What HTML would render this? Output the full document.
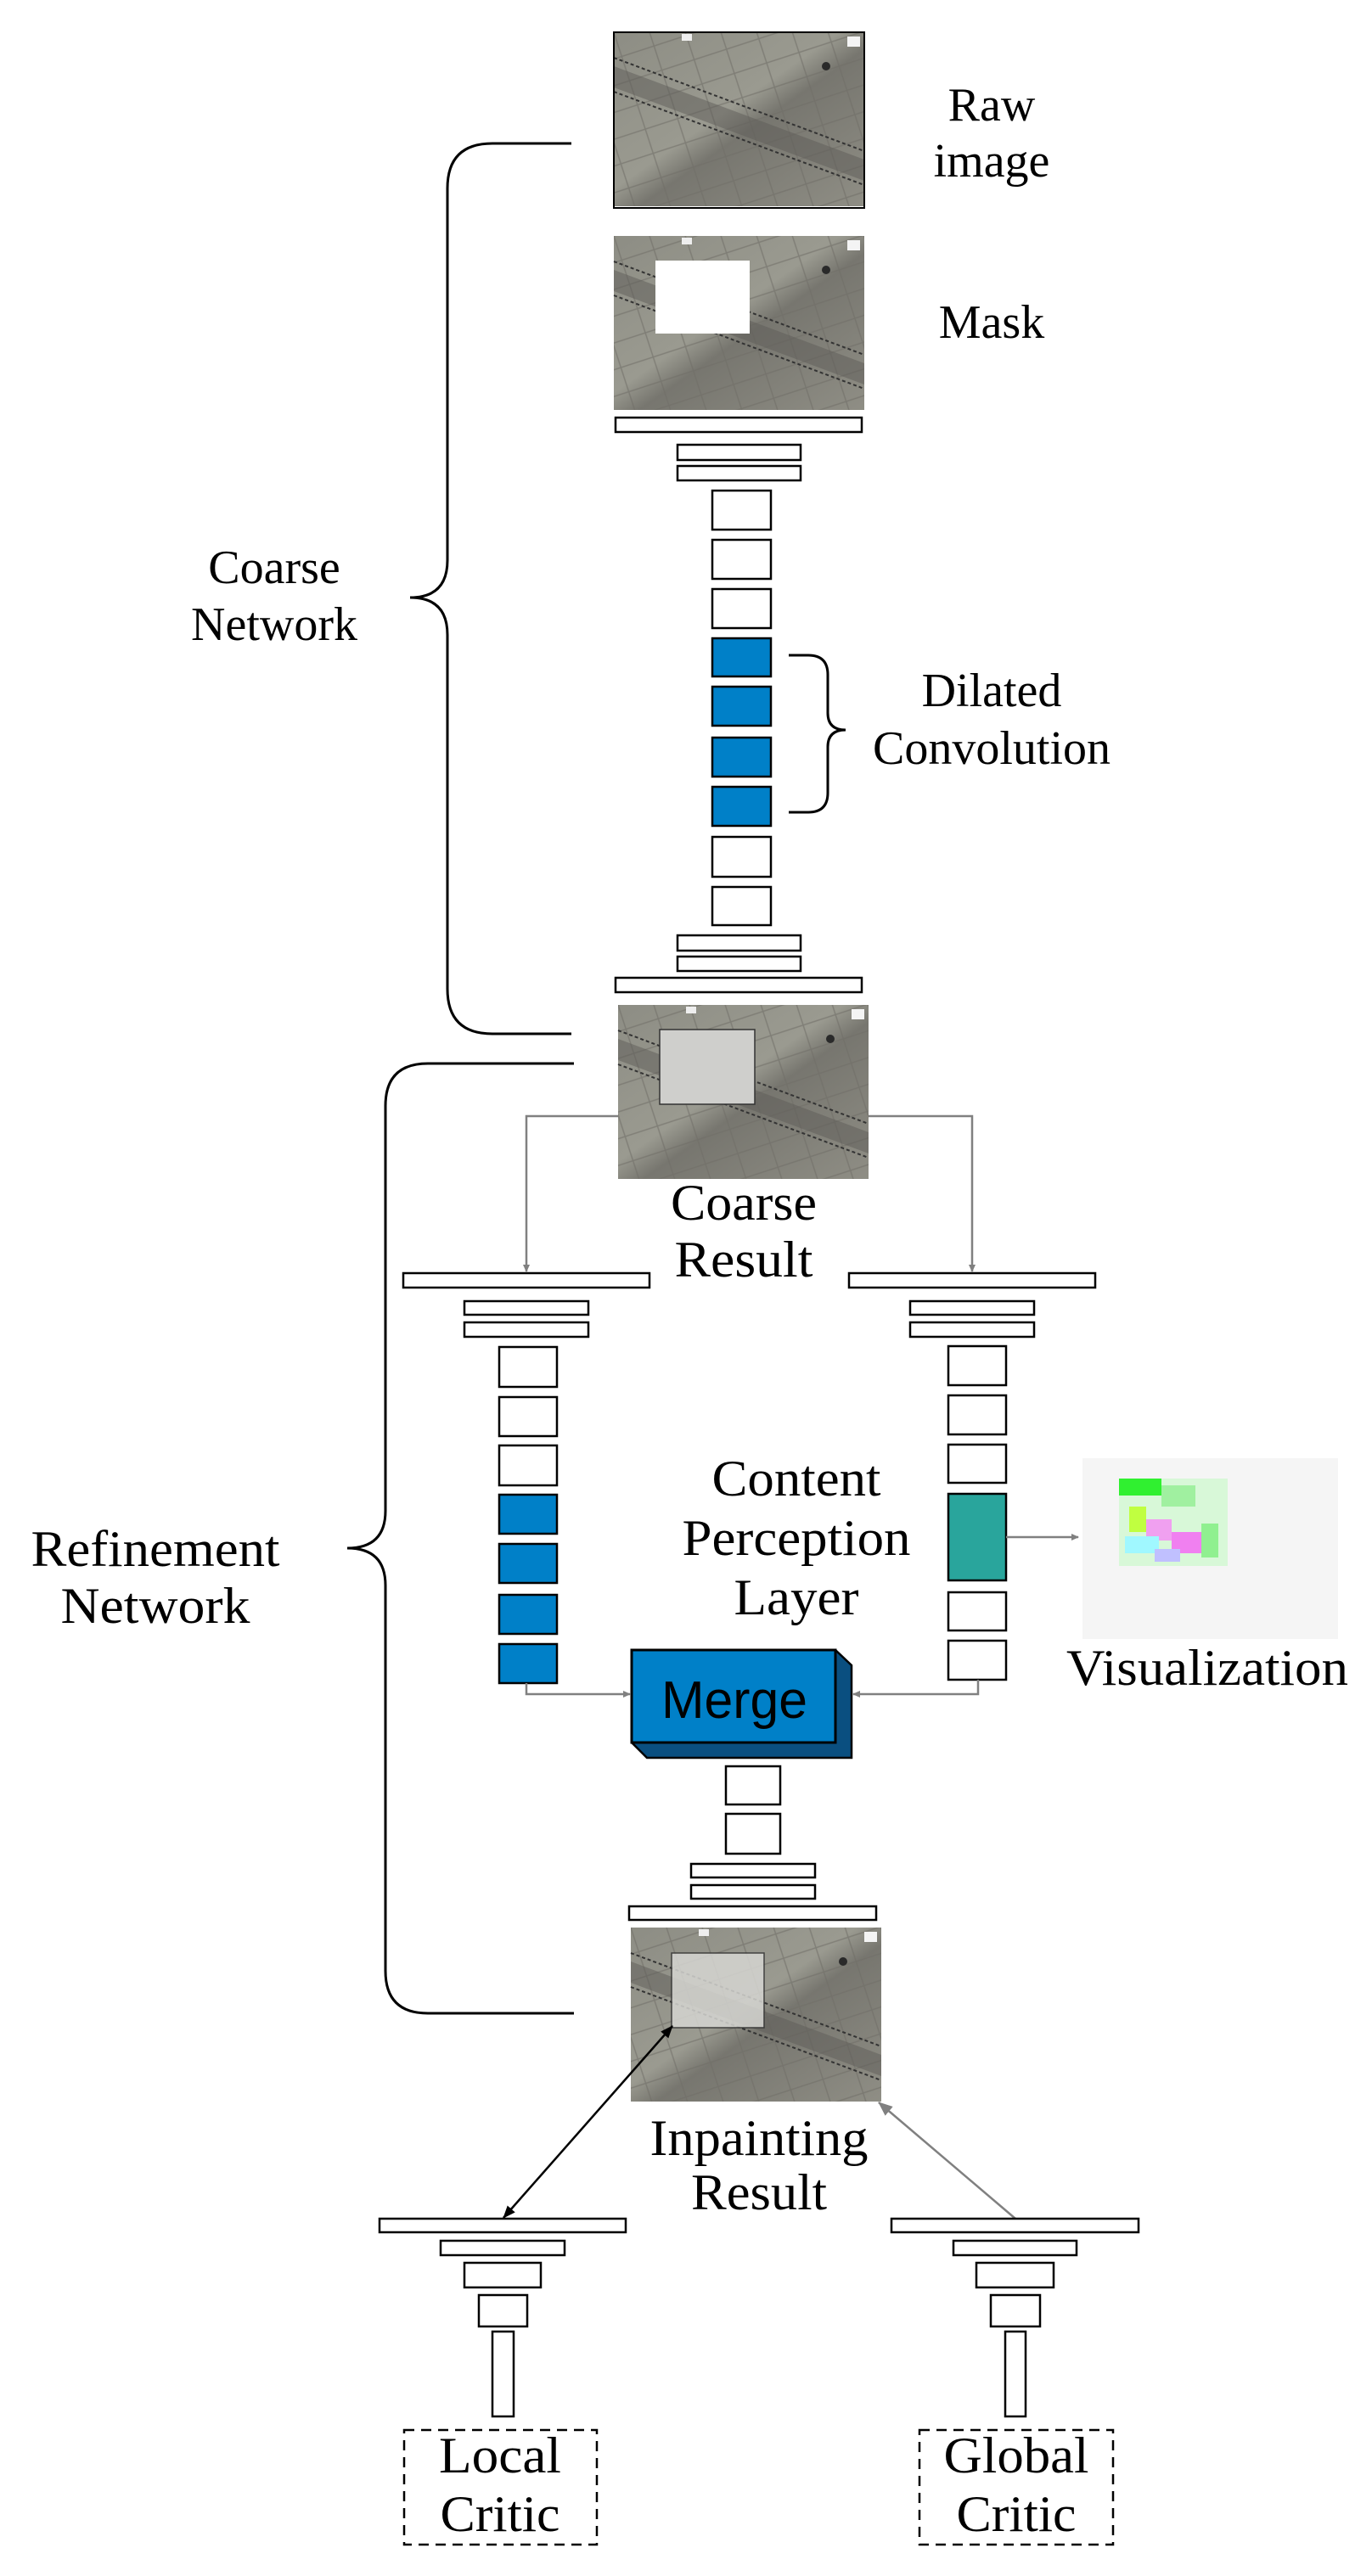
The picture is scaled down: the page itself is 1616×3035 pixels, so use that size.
<!DOCTYPE html>
<html><head><meta charset="utf-8"><style>
html,body{margin:0;padding:0;background:#fff}
svg{display:block}
text{font-family:"Liberation Serif",serif;fill:#000}
</style></head><body>
<svg width="1616" height="3035" viewBox="0 0 1616 3035" xmlns="http://www.w3.org/2000/svg">
<defs>
<linearGradient id="g1" x1="0" y1="0" x2="1" y2="1">
<stop offset="0" stop-color="#8d8d84"/><stop offset="0.45" stop-color="#9a9a90"/><stop offset="0.55" stop-color="#77766f"/><stop offset="1" stop-color="#8f8e85"/>
</linearGradient>
<pattern id="tiles" width="40" height="30" patternUnits="userSpaceOnUse" patternTransform="rotate(-18)">
<rect width="40" height="30" fill="none" stroke="#6f6e68" stroke-width="1.5" opacity="0.6"/>
</pattern>
<marker id="ag" markerWidth="10" markerHeight="10" refX="8" refY="5" orient="auto" markerUnits="userSpaceOnUse"><path d="M0,1 L9,5 L0,9 z" fill="#808080"/></marker>
<marker id="agb" markerWidth="18" markerHeight="18" refX="16" refY="9" orient="auto" markerUnits="userSpaceOnUse"><path d="M0,2 L17,9 L0,16 z" fill="#808080"/></marker>
<marker id="ab" markerWidth="16" markerHeight="16" refX="14" refY="8" orient="auto-start-reverse" markerUnits="userSpaceOnUse"><path d="M0,2 L15,8 L0,14 z" fill="#000"/></marker>
<g id="photo">
<rect width="295" height="205" fill="url(#g1)"/>
<rect width="295" height="205" fill="url(#tiles)"/>
<path d="M0,40 L295,150 L295,175 L0,65 z" fill="#5d5c57" opacity="0.5"/>
<path d="M0,30 L295,140" stroke="#333" stroke-width="2" stroke-dasharray="4 3"/>
<path d="M0,70 L295,180" stroke="#333" stroke-width="2" stroke-dasharray="4 3"/>
<circle cx="250" cy="40" r="5" fill="#2a2a2a"/>
<rect x="80" y="2" width="12" height="8" fill="#eee"/>
<rect x="275" y="5" width="15" height="12" fill="#f4f4f4"/>
</g>
</defs>

<use href="#photo" x="723" y="38"/>
<rect x="723" y="38" width="295" height="207" fill="none" stroke="#000" stroke-width="2"/>
<text x="1168" y="142" font-size="56" text-anchor="middle">Raw</text>
<text x="1168" y="208" font-size="56" text-anchor="middle">image</text>

<use href="#photo" x="723" y="278"/>
<rect x="772" y="307" width="111" height="86" fill="#fff"/>
<text x="1168" y="398" font-size="56" text-anchor="middle">Mask</text>

<g fill="#fff" stroke="#000" stroke-width="2.5">
<rect x="725" y="492" width="290" height="17"/>
<rect x="798" y="524" width="145" height="18"/>
<rect x="798" y="549" width="145" height="17"/>
<rect x="839" y="578" width="69" height="46"/>
<rect x="839" y="636" width="69" height="46"/>
<rect x="839" y="694" width="69" height="46"/>
<rect x="839" y="752" width="69" height="45" fill="#0080c8"/>
<rect x="839" y="809" width="69" height="46" fill="#0080c8"/>
<rect x="839" y="869" width="69" height="46" fill="#0080c8"/>
<rect x="839" y="927" width="69" height="46" fill="#0080c8"/>
<rect x="839" y="986" width="69" height="47"/>
<rect x="839" y="1045" width="69" height="45"/>
<rect x="798" y="1102" width="145" height="18"/>
<rect x="798" y="1127" width="145" height="17"/>
<rect x="725" y="1152" width="290" height="17"/>
</g>

<path d="M929,772 L952,772 Q975,772 975,795 L975,840 Q975,860 996,860 Q975,860 975,880 L975,934 Q975,957 952,957 L929,957" fill="none" stroke="#000" stroke-width="3"/>
<text x="1168" y="832" font-size="56" text-anchor="middle">Dilated</text>
<text x="1168" y="900" font-size="56" text-anchor="middle">Convolution</text>

<path d="M673,169 L580,169 Q527,169 527,222 L527,660 Q527,704 483,704 Q527,704 527,748 L527,1165 Q527,1218 580,1218 L673,1218" fill="none" stroke="#000" stroke-width="3"/>
<text x="323" y="687" font-size="56" text-anchor="middle">Coarse</text>
<text x="323" y="754" font-size="56" text-anchor="middle">Network</text>

<use href="#photo" x="728" y="1184"/>
<rect x="777" y="1213" width="112" height="88" fill="#cfcfcc" stroke="#333" stroke-width="1.5"/>
<text x="876" y="1437" font-size="60" text-anchor="middle" textLength="172" lengthAdjust="spacingAndGlyphs">Coarse</text>
<text x="876" y="1504" font-size="60" text-anchor="middle" textLength="163" lengthAdjust="spacingAndGlyphs">Result</text>

<path d="M676,1253 L504,1253 Q454,1253 454,1303 L454,1780 Q454,1824 409,1824 Q454,1824 454,1868 L454,2322 Q454,2372 504,2372 L676,2372" fill="none" stroke="#000" stroke-width="3"/>
<text x="183" y="1845" font-size="60" text-anchor="middle" textLength="293" lengthAdjust="spacingAndGlyphs">Refinement</text>
<text x="183" y="1912" font-size="60" text-anchor="middle" textLength="223" lengthAdjust="spacingAndGlyphs">Network</text>

<path d="M728,1315 L620,1315 L620,1498" fill="none" stroke="#808080" stroke-width="2.5" marker-end="url(#ag)"/>
<path d="M1023,1315 L1145,1315 L1145,1498" fill="none" stroke="#808080" stroke-width="2.5" marker-end="url(#ag)"/>

<g fill="#fff" stroke="#000" stroke-width="2.5">
<rect x="475" y="1500" width="290" height="17"/>
<rect x="547" y="1533" width="146" height="16"/>
<rect x="547" y="1558" width="146" height="17"/>
<rect x="588" y="1587" width="68" height="47"/>
<rect x="588" y="1646" width="68" height="46"/>
<rect x="588" y="1703" width="68" height="47"/>
<rect x="588" y="1761" width="68" height="46" fill="#0080c8"/>
<rect x="588" y="1819" width="68" height="46" fill="#0080c8"/>
<rect x="588" y="1879" width="68" height="46" fill="#0080c8"/>
<rect x="588" y="1937" width="68" height="46" fill="#0080c8"/>
<rect x="1000" y="1500" width="290" height="17"/>
<rect x="1072" y="1533" width="146" height="16"/>
<rect x="1072" y="1558" width="146" height="17"/>
<rect x="1117" y="1586" width="68" height="46"/>
<rect x="1117" y="1644" width="68" height="46"/>
<rect x="1117" y="1702" width="68" height="45"/>
<rect x="1117" y="1760" width="68" height="102" fill="#29a59c"/>
<rect x="1117" y="1876" width="68" height="45"/>
<rect x="1117" y="1933" width="68" height="46"/>
</g>

<text x="938" y="1762" font-size="60" text-anchor="middle" textLength="199" lengthAdjust="spacingAndGlyphs">Content</text>
<text x="938" y="1832" font-size="60" text-anchor="middle" textLength="269" lengthAdjust="spacingAndGlyphs">Perception</text>
<text x="938" y="1902" font-size="60" text-anchor="middle" textLength="147" lengthAdjust="spacingAndGlyphs">Layer</text>

<rect x="1275" y="1718" width="301" height="213" fill="#f5f5f5"/>
<g>
<rect x="1318" y="1742" width="128" height="103" fill="#d8f8d8"/>
<rect x="1318" y="1742" width="50" height="20" fill="#30f030"/>
<rect x="1368" y="1750" width="40" height="25" fill="#a0f0a0"/>
<rect x="1330" y="1775" width="20" height="30" fill="#c0ff40"/>
<rect x="1350" y="1790" width="30" height="25" fill="#f0a0f0"/>
<rect x="1325" y="1810" width="40" height="20" fill="#a0f8ff"/>
<rect x="1380" y="1805" width="35" height="25" fill="#f080f0"/>
<rect x="1360" y="1825" width="30" height="15" fill="#c0c0ff"/>
<rect x="1415" y="1795" width="20" height="40" fill="#90f090"/>
</g>
<path d="M1185,1811 L1270,1811" stroke="#808080" stroke-width="2.5" marker-end="url(#ag)"/>
<text x="1422" y="1985" font-size="60" text-anchor="middle" textLength="332" lengthAdjust="spacingAndGlyphs">Visualization</text>

<path d="M744,1944 L984,1944 L1003,1962 L1003,2071 L762,2071 L744,2053 z" fill="#0a4f80" stroke="#000" stroke-width="2.5"/>
<rect x="744" y="1944" width="240" height="109" fill="#0080c8" stroke="#000" stroke-width="3"/>
<text x="865" y="2024" font-size="62" text-anchor="middle" textLength="172" lengthAdjust="spacingAndGlyphs" style="font-family:'Liberation Sans',sans-serif">Merge</text>
<path d="M620,1983 L620,1996 L742,1996" fill="none" stroke="#808080" stroke-width="2.5" marker-end="url(#ag)"/>
<path d="M1152,1979 L1152,1996 L1005,1996" fill="none" stroke="#808080" stroke-width="2.5" marker-end="url(#ag)"/>

<g fill="#fff" stroke="#000" stroke-width="2.5">
<rect x="855" y="2081" width="64" height="45"/>
<rect x="855" y="2137" width="64" height="47"/>
<rect x="814" y="2196" width="146" height="16"/>
<rect x="814" y="2221" width="146" height="16"/>
<rect x="741" y="2246" width="291" height="16"/>
</g>

<use href="#photo" x="743" y="2271"/>
<rect x="791" y="2301" width="109" height="88" fill="#d6d6d2" opacity="0.85" stroke="#333" stroke-width="1.5"/>
<text x="894" y="2539" font-size="60" text-anchor="middle" textLength="257" lengthAdjust="spacingAndGlyphs">Inpainting</text>
<text x="894" y="2603" font-size="60" text-anchor="middle" textLength="160" lengthAdjust="spacingAndGlyphs">Result</text>

<path d="M593,2613 L792,2387" stroke="#000" stroke-width="2.5" marker-start="url(#ab)" marker-end="url(#ab)"/>
<path d="M1196,2614 L1035,2477" stroke="#808080" stroke-width="2.5" marker-end="url(#agb)"/>

<g fill="#fff" stroke="#000" stroke-width="2.5">
<rect x="447" y="2614" width="290" height="16"/>
<rect x="519" y="2640" width="146" height="17"/>
<rect x="547" y="2666" width="90" height="29"/>
<rect x="564" y="2704" width="57" height="37"/>
<rect x="580" y="2747" width="25" height="100"/>
<rect x="1050" y="2614" width="291" height="16"/>
<rect x="1123" y="2640" width="145" height="17"/>
<rect x="1150" y="2666" width="91" height="29"/>
<rect x="1167" y="2704" width="58" height="37"/>
<rect x="1184" y="2747" width="24" height="100"/>
</g>
<rect x="476" y="2863" width="227" height="135" fill="none" stroke="#000" stroke-width="2.5" stroke-dasharray="12 8"/>
<rect x="1083" y="2863" width="228" height="135" fill="none" stroke="#000" stroke-width="2.5" stroke-dasharray="12 8"/>
<text x="589" y="2913" font-size="60" text-anchor="middle" textLength="144" lengthAdjust="spacingAndGlyphs">Local</text>
<text x="589" y="2982" font-size="60" text-anchor="middle" textLength="141" lengthAdjust="spacingAndGlyphs">Critic</text>
<text x="1197" y="2913" font-size="60" text-anchor="middle" textLength="171" lengthAdjust="spacingAndGlyphs">Global</text>
<text x="1197" y="2982" font-size="60" text-anchor="middle" textLength="141" lengthAdjust="spacingAndGlyphs">Critic</text>
</svg>
</body></html>
